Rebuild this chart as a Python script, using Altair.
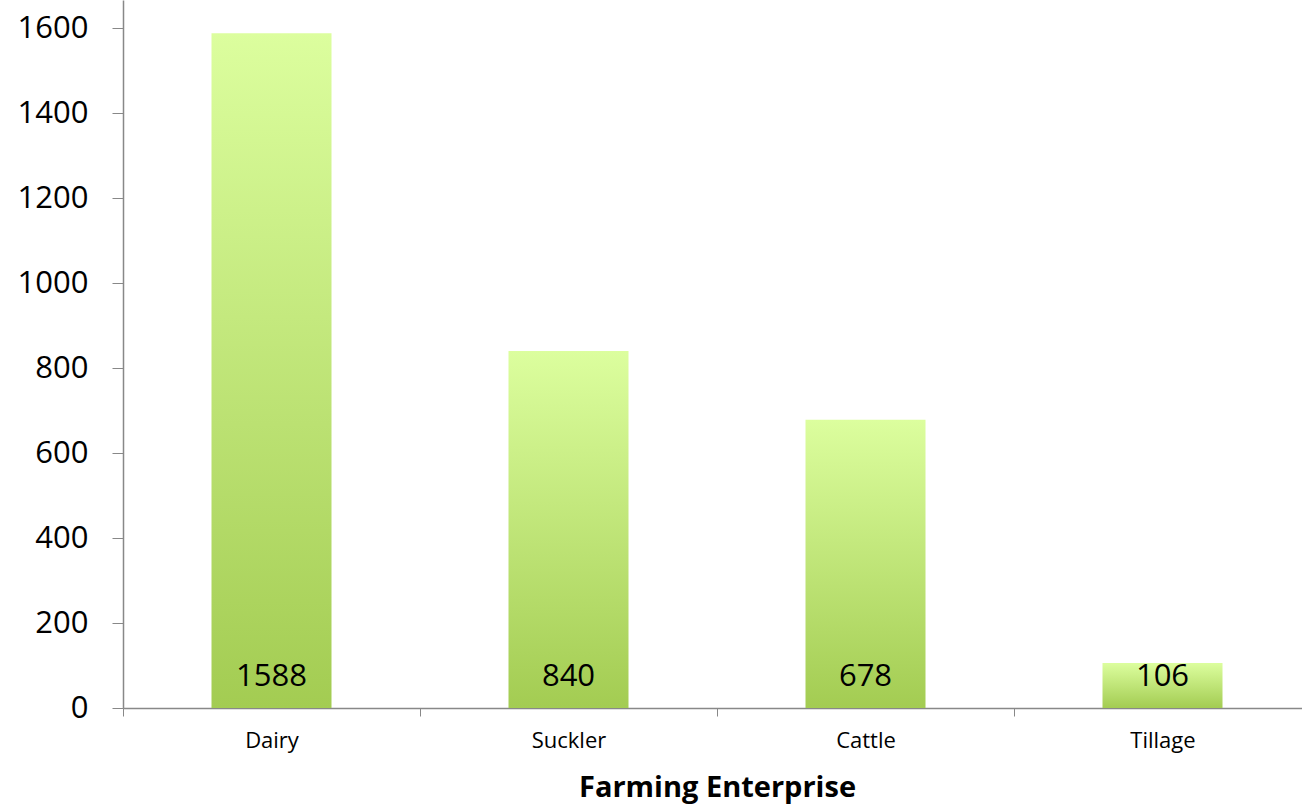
import altair as alt
import pandas as pd

categories = ["Dairy", "Suckler", "Cattle", "Tillage"]
values = [1588, 840, 678, 106]
y_ticks = [0, 200, 400, 600, 800, 1000, 1200, 1400, 1600]

df = pd.DataFrame({"enterprise": categories, "count": values})

FONT = "Open Sans"

x_enc = alt.X(
    "enterprise:N",
    sort=categories,
    title="Farming Enterprise",
    scale=alt.Scale(range=[0, 1188], paddingInner=0, paddingOuter=0),
    axis=alt.Axis(
        labelAngle=0,
        labelFont=FONT,
        labelFontSize=22,
        labelColor="#000000",
        labelPadding=14,
        tickBand="extent",
        tickColor="#888888",
        tickSize=8,
        domainColor="#888888",
        domainWidth=1.5,
        titleFont=FONT,
        titleFontSize=29,
        titleFontWeight="bold",
        titleColor="#000000",
        titlePadding=22,
    ),
)

y_scale = alt.Scale(domain=[0, 1666], nice=False)

bars = alt.Chart(df).mark_bar(
    width=120,
    color=alt.Gradient(
        gradient="linear",
        x1=0, x2=0, y1=0, y2=1,
        stops=[
            alt.GradientStop(color="#dcfe9e", offset=0),
            alt.GradientStop(color="#a3cc52", offset=1),
        ],
    ),
).encode(
    x=x_enc,
    y=alt.Y(
        "count:Q",
        scale=y_scale,
        title=None,
        axis=alt.Axis(
            values=y_ticks,
            format="d",
            grid=False,
            labelFont=FONT,
            labelFontSize=31,
            labelColor="#000000",
            labelPadding=24,
            tickColor="#888888",
            tickSize=11,
            domainColor="#888888",
            domainWidth=1.5,
        ),
    ),
)

labels = alt.Chart(df).mark_text(
    font=FONT, fontSize=31, color="#000000", baseline="alphabetic", dy=-22
).encode(
    x=alt.X("enterprise:N", sort=categories),
    y=alt.YDatum(0),
    text=alt.Text("count:Q"),
)

chart = (
    alt.layer(bars, labels)
    .properties(
        width=1179,
        height=708,
        autosize=alt.AutoSizeParams(type="none"),
        padding={"left": 123, "top": 0, "right": 0, "bottom": 102},
        background="#ffffff",
    )
    .configure_view(stroke=None)
)

chart.save("out.html", embed_options={"renderer": "svg", "actions": False})
